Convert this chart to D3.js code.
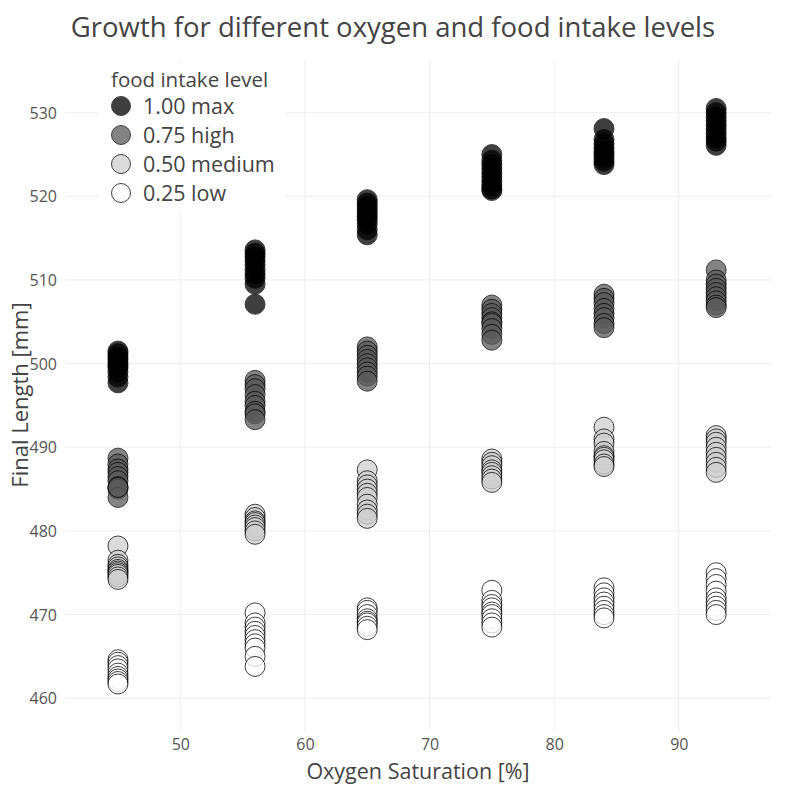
<!DOCTYPE html>
<html>
<head>
<meta charset="utf-8">
<script src="https://cdn.jsdelivr.net/npm/d3@7"></script>
<style>
  body { margin: 0; background: #fff; font-family: "Open Sans", sans-serif; }
  .tick text { fill: #555; font-size: 16px; font-family: "Open Sans", sans-serif; }
</style>
</head>
<body>
<svg id="chart" width="791" height="785"></svg>
<script>
// oxygen saturation levels (x)
var oxygen = [45, 56, 65, 75, 84, 93];

// final length [mm] per oxygen level, one list for each food intake level
var lenMax = [
  [501.5, 501.2, 500.8, 500.5, 500.1, 499.8, 499.5, 499.0, 498.4, 497.7],
  [513.6, 513.2, 512.8, 512.3, 511.8, 511.2, 510.7, 510.2, 509.5, 507.1],
  [519.6, 519.2, 518.8, 518.4, 518.0, 517.6, 517.2, 516.7, 516.0, 515.4],
  [525.0, 524.3, 523.8, 523.3, 522.8, 522.3, 521.8, 521.3, 520.9, 520.7],
  [528.1, 526.8, 526.3, 525.8, 525.3, 525.0, 524.6, 524.2, 523.8],
  [530.5, 530.0, 529.5, 529.0, 528.5, 528.0, 527.5, 527.0, 526.6, 526.1]
];
var lenHigh = [
  [488.7, 488.0, 487.4, 487.0, 486.5, 486.0, 485.3, 485.0, 484.0, 485.2],
  [498.0, 497.5, 497.0, 496.3, 495.5, 495.0, 494.3, 494.0, 493.3],
  [502.0, 501.5, 501.0, 500.5, 500.0, 499.5, 499.0, 498.5, 497.9],
  [507.0, 506.5, 506.0, 505.5, 505.0, 504.8, 504.2, 503.5, 502.8],
  [508.3, 507.8, 507.3, 506.6, 506.0, 505.5, 504.8, 504.3],
  [511.2, 510.0, 509.5, 509.0, 508.5, 508.0, 507.5, 507.0, 506.7]
];
var lenMedium = [
  [478.2, 476.5, 476.0, 475.7, 475.4, 475.2, 475.0, 474.8, 474.5, 474.2],
  [482.0, 481.6, 481.2, 481.0, 480.7, 480.4, 480.0, 479.6],
  [487.3, 486.0, 485.5, 485.0, 484.5, 484.0, 483.2, 482.5, 482.0, 481.5],
  [488.6, 488.2, 487.8, 487.3, 487.0, 486.6, 486.2, 485.8],
  [492.4, 491.0, 490.5, 489.5, 489.0, 488.8, 488.5, 488.0, 487.7],
  [491.4, 491.0, 490.6, 490.0, 489.4, 488.8, 488.2, 487.6, 487.0]
];
var lenLow = [
  [464.6, 464.3, 463.9, 463.5, 463.0, 462.6, 462.3, 462.0, 461.7],
  [470.2, 469.0, 468.5, 468.0, 467.5, 467.0, 466.5, 466.0, 465.0, 463.8],
  [470.8, 470.5, 470.0, 469.5, 469.2, 469.0, 468.6, 468.2],
  [472.9, 471.7, 471.2, 470.8, 470.3, 470.0, 469.5, 469.0, 468.5],
  [473.2, 472.6, 472.0, 471.5, 471.0, 470.5, 470.0, 469.6],
  [475.0, 474.3, 473.6, 472.8, 472.0, 471.5, 471.0, 470.5, 470.0]
];

var foodLabels = ["1.00 max", "0.75 high", "0.50 medium", "0.25 low"];
var foodColors = ["#000000", "#5a5a5a", "#d0d0d0", "#ffffff"];
var xTicks = [50, 60, 70, 80, 90];
var yTicks = [460, 470, 480, 490, 500, 510, 520, 530];

var series = [lenMax, lenHigh, lenMedium, lenLow];

var margin = {top: 60, right: 20, bottom: 55, left: 65};
var W = 791, H = 785;
var width = W - margin.left - margin.right;
var height = H - margin.top - margin.bottom;

var svg = d3.select("#chart");
var g = svg.append("g")
  .attr("transform", "translate(" + margin.left + "," + margin.top + ")");

var x = d3.scaleLinear().domain([40.75, 97.4]).range([0, width]);
var y = d3.scaleLinear().domain([456.2, 536.3]).range([height, 0]);

// grid
g.append("g").selectAll("line").data(xTicks).join("line")
  .attr("x1", d => x(d)).attr("x2", d => x(d))
  .attr("y1", 0).attr("y2", height)
  .attr("stroke", "#eee").attr("stroke-width", 1);
g.append("g").selectAll("line").data(yTicks).join("line")
  .attr("x1", 0).attr("x2", width)
  .attr("y1", d => y(d)).attr("y2", d => y(d))
  .attr("stroke", "#eee").attr("stroke-width", 1);

// axes (no lines, labels only)
var xAxis = g.append("g")
  .attr("transform", "translate(0," + height + ")")
  .call(d3.axisBottom(x).tickValues(xTicks).tickSize(0).tickPadding(9));
xAxis.select(".domain").remove();

var yAxis = g.append("g")
  .call(d3.axisLeft(y).tickValues(yTicks).tickSize(0).tickPadding(8));
yAxis.select(".domain").remove();
yAxis.selectAll("text").attr("dy", "0.35em");

// points, low level drawn first
for (var s = series.length - 1; s >= 0; s--) {
  var pts = [];
  series[s].forEach(function (vals, i) {
    vals.forEach(function (v) { pts.push({x: oxygen[i], y: v}); });
  });
  g.append("g").selectAll("circle").data(pts).join("circle")
    .attr("cx", d => x(d.x))
    .attr("cy", d => y(d.y))
    .attr("r", 10)
    .attr("fill", foodColors[s])
    .attr("stroke", "#000")
    .attr("stroke-width", 1)
    .attr("opacity", 0.75);
}

// title and axis titles
svg.append("text")
  .attr("x", 393).attr("y", 37)
  .attr("text-anchor", "middle")
  .attr("fill", "#444")
  .style("font-size", "27.5px")
  .text("Growth for different oxygen and food intake levels");

svg.append("text")
  .attr("x", margin.left + width / 2).attr("y", 779)
  .attr("text-anchor", "middle")
  .attr("fill", "#444")
  .style("font-size", "21.5px")
  .text("Oxygen Saturation [%]");

svg.append("text")
  .attr("transform", "translate(28," + 395 + ") rotate(-90)")
  .attr("text-anchor", "middle")
  .attr("fill", "#444")
  .style("font-size", "22px")
  .text("Final Length [mm]");

// legend
var lg = svg.append("g").attr("transform", "translate(98,64)");
lg.append("rect")
  .attr("width", 188).attr("height", 146)
  .attr("fill", "#fff");
lg.append("text")
  .attr("x", 13).attr("y", 23)
  .attr("fill", "#444")
  .style("font-size", "20.5px")
  .text("food intake level");
foodLabels.forEach(function (lab, i) {
  var row = lg.append("g").attr("transform", "translate(0," + (42 + i * 29) + ")");
  row.append("circle")
    .attr("cx", 23).attr("cy", 0).attr("r", 9.5)
    .attr("fill", foodColors[i])
    .attr("stroke", "#000").attr("stroke-width", 1)
    .attr("opacity", 0.75);
  row.append("text")
    .attr("x", 45).attr("y", 0).attr("dy", "0.35em")
    .attr("fill", "#444")
    .style("font-size", "21.5px")
    .text(lab);
});
</script>
</body>
</html>
